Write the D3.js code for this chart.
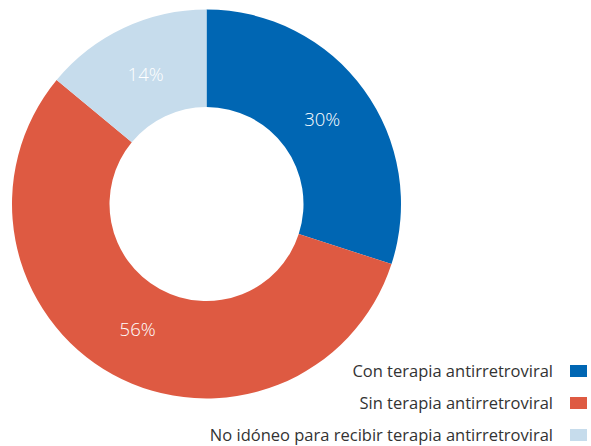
<!DOCTYPE html>
<html>
<head>
<meta charset="utf-8">
<script src="https://cdn.jsdelivr.net/npm/d3@7"></script>
<style>
  body { margin: 0; background: #fff; }
  svg { display: block; }
</style>
</head>
<body>
<svg id="chart" width="591" height="446"></svg>
<script>
// categories and values
const categories = ["Con terapia antirretroviral", "Sin terapia antirretroviral", "No idóneo para recibir terapia antirretroviral"];
const values = [30, 56, 14];
const colors = ["#0066b3", "#de5a42", "#c6dcec"];

const svg = d3.select("#chart");

var cx = 206.5, cy = 204,
    outerR = 194.5, innerR = 97;

const pie = d3.pie().sort(null).value(d => d.value);
const arcs = pie(categories.map((c, i) => ({name: c, value: values[i], color: colors[i]})));

const arc = d3.arc().innerRadius(innerR).outerRadius(outerR);
const labelArc = d3.arc().innerRadius(143).outerRadius(143);

const g = svg.append("g").attr("transform", "translate(" + cx + "," + cy + ")");

g.selectAll("path")
    .data(arcs)
    .enter()
    .append("path")
    .attr("d", arc)
    .attr("fill", d => d.data.color);

// percentage labels inside the ring
g.selectAll("text")
    .data(arcs)
    .enter()
    .append("text")
    .attr("transform", d => "translate(" + labelArc.centroid(d) + ")")
    .attr("text-anchor", "middle")
    .attr("dy", "0.35em")
    .style("font-family", "'Open Sans', sans-serif")
    .style("font-weight", 300)
    .style("font-size", "18.5px")
    .style("fill", "#fff")
    .text(d => d.data.value + "%");

// legend, bottom right
const legend = svg.append("g").attr("transform", "translate(0,371)");
const row = legend.selectAll("g")
    .data(categories)
    .enter()
    .append("g")
    .attr("transform", (d, i) => "translate(0," + i * 32 + ")");

row.append("text")
    .attr("x", 553)
    .attr("dy", "0.35em")
    .attr("text-anchor", "end")
    .style("font-family", "'Open Sans', sans-serif")
    .style("font-size", "16.5px")
    .style("fill", "#333")
    .text(d => d);

row.append("rect")
    .attr("x", 570)
    .attr("y", -6)
    .attr("width", 17)
    .attr("height", 12)
    .attr("fill", (d, i) => colors[i]);
</script>
</body>
</html>
